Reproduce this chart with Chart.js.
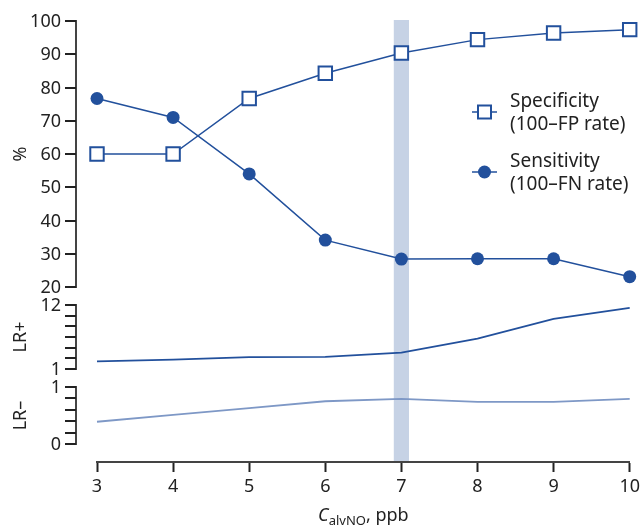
<!DOCTYPE html>
<html lang="en">
<head>
<meta charset="UTF-8">
<title>Specificity, sensitivity and likelihood ratios by CalvNO cut-off</title>
<script src="https://cdn.jsdelivr.net/npm/chart.js"></script>
<style>
  html, body { margin: 0; padding: 0; background: #fff; }
  canvas { display: block; }
</style>
</head>
<body>
<canvas id="chart" width="644" height="528"></canvas>
<script>
  // cut-off values of CalvNO (ppb)
  const cutoffs = [3, 4, 5, 6, 7, 8, 9, 10];
  const specificity = [60, 60, 76.7, 84.3, 90.4, 94.4, 96.4, 97.4];
  const sensitivity = [76.7, 71, 54, 34.1, 28.4, 28.5, 28.5, 23.1];
  const lrPlus = [2.3, 2.6, 3.05, 3.1, 3.8, 6.2, 9.6, 11.5];
  const lrMinus = [0.39, 0.51, 0.63, 0.75, 0.79, 0.74, 0.74, 0.79];

  const pctTicks = [20, 30, 40, 50, 60, 70, 80, 90, 100];
  const lrPlusTicks = [1, 2.833, 4.667, 6.5, 8.333, 10.167, 12];
  const lrPlusTickLabels = ['1', '', '', '', '', '', '12'];
  const lrMinusTicks = [0, 0.2, 0.4, 0.6, 0.8, 1];
  const lrMinusTickLabels = ['0', '', '', '', '', '1'];

  const optimalCutoff = 7;

  const BLUE = '#22509c';
  const LIGHT_BLUE = '#7e98c6';
  const BAND = '#c6d2e5';
  const INK = '#222';
  const FONT = "'Noto Sans', sans-serif";

  Chart.defaults.font.family = FONT;
  Chart.defaults.color = INK;

  // plot area goes from y=20 to y=462, each panel sits in its own band of it
  const AREA_TOP = 20, AREA_BOTTOM = 462;
  function fitRange(hi, hiPx, lo, loPx) {
    const k = (hi - lo) / (loPx - hiPx);
    return { min: lo - (AREA_BOTTOM - loPx) * k, max: hi + (hiPx - AREA_TOP) * k };
  }

  const panels = [
    { id: 'yPct', title: '%', ticks: pctTicks, labels: pctTicks.map(String), range: fitRange(100, 21, 20, 287) },
    { id: 'yPlus', title: 'LR+', ticks: lrPlusTicks, labels: lrPlusTickLabels, range: fitRange(12, 305, 1, 369) },
    { id: 'yMinus', title: 'LR–', ticks: lrMinusTicks, labels: lrMinusTickLabels, range: fitRange(1, 387, 0, 444) }
  ];

  const pts = vals => cutoffs.map((c, i) => ({ x: c, y: vals[i] }));

  const panelAxes = {
    id: 'panelAxes',
    beforeDraw(chart) {
      const { ctx, chartArea } = chart;
      const x = chart.scales.x;
      const l = x.getPixelForValue(optimalCutoff - 0.1);
      const r = x.getPixelForValue(optimalCutoff + 0.1);
      ctx.save();
      ctx.fillStyle = BAND;
      ctx.fillRect(l, chartArea.top, r - l, chartArea.bottom - chartArea.top);
      ctx.restore();
    },
    afterDraw(chart) {
      const { ctx } = chart;
      const axisX = 76;
      ctx.save();
      ctx.font = '18px ' + FONT;
      ctx.fillStyle = INK;
      panels.forEach(p => {
        const s = chart.scales[p.id];
        const top = s.getPixelForValue(p.ticks[p.ticks.length - 1]);
        const bot = s.getPixelForValue(p.ticks[0]);
        ctx.strokeStyle = '#444';
        ctx.lineWidth = 2;
        ctx.beginPath();
        ctx.moveTo(axisX, top - 1);
        ctx.lineTo(axisX, bot + 1);
        ctx.stroke();
        ctx.strokeStyle = INK;
        p.ticks.forEach((t, i) => {
          const y = Math.round(s.getPixelForValue(t));
          ctx.beginPath();
          ctx.moveTo(65, y);
          ctx.lineTo(axisX, y);
          ctx.stroke();
          if (p.labels[i]) {
            ctx.textAlign = 'right';
            ctx.textBaseline = 'middle';
            ctx.fillText(p.labels[i], 61, y + 1);
          }
        });
        ctx.save();
        ctx.translate(21, (top + bot) / 2);
        ctx.rotate(-Math.PI / 2);
        ctx.textAlign = 'center';
        ctx.textBaseline = 'middle';
        ctx.fillText(p.title, 0, 0);
        ctx.restore();
      });

      // legend
      const legend = [
        { lines: ['Specificity', '(100–FP rate)'], style: 'rect', y: 112 },
        { lines: ['Sensitivity', '(100–FN rate)'], style: 'circle', y: 172 }
      ];
      legend.forEach(it => {
        ctx.strokeStyle = BLUE;
        ctx.lineWidth = 1.5;
        ctx.beginPath();
        ctx.moveTo(472, it.y);
        ctx.lineTo(497, it.y);
        ctx.stroke();
        if (it.style === 'rect') {
          ctx.fillStyle = '#fff';
          ctx.lineWidth = 2;
          ctx.fillRect(478, it.y - 6.5, 13, 13);
          ctx.strokeRect(478, it.y - 6.5, 13, 13);
        } else {
          ctx.fillStyle = BLUE;
          ctx.beginPath();
          ctx.arc(484.5, it.y, 6.5, 0, Math.PI * 2);
          ctx.fill();
        }
        ctx.fillStyle = INK;
        ctx.font = '19px ' + FONT;
        ctx.textAlign = 'left';
        ctx.textBaseline = 'alphabetic';
        ctx.fillText(it.lines[0], 510, it.y - 5);
        ctx.fillText(it.lines[1], 510, it.y + 18);
      });

      // x axis title: C_alvNO, ppb
      const x = chart.scales.x;
      const cx = (x.left + x.right) / 2;
      const base = 521;
      const parts = [
        { t: 'C', f: 'italic 18px ' + FONT, dy: 0 },
        { t: 'alvNO', f: '13px ' + FONT, dy: 4 },
        { t: ', ppb', f: '18px ' + FONT, dy: 0 }
      ];
      let w = 0;
      parts.forEach(p => { ctx.font = p.f; p.w = ctx.measureText(p.t).width; w += p.w; });
      let px = cx - w / 2;
      ctx.textAlign = 'left';
      ctx.textBaseline = 'alphabetic';
      parts.forEach(p => { ctx.font = p.f; ctx.fillText(p.t, px, base + p.dy); px += p.w; });
      ctx.restore();
    }
  };

  new Chart(document.getElementById('chart'), {
    type: 'line',
    data: {
      datasets: [
        {
          label: 'Specificity (100–FP rate)',
          data: pts(specificity),
          yAxisID: 'yPct',
          borderColor: BLUE,
          borderWidth: 1.5,
          pointStyle: 'rect',
          pointRadius: 9.5,
          pointBorderWidth: 2,
          pointBackgroundColor: '#fff',
          pointBorderColor: BLUE,
          clip: false
        },
        {
          label: 'Sensitivity (100–FN rate)',
          data: pts(sensitivity),
          yAxisID: 'yPct',
          borderColor: BLUE,
          borderWidth: 1.5,
          pointStyle: 'circle',
          pointRadius: 6.5,
          pointBorderWidth: 0,
          pointBackgroundColor: BLUE,
          clip: false
        },
        {
          label: 'LR+',
          data: pts(lrPlus),
          yAxisID: 'yPlus',
          borderColor: BLUE,
          borderWidth: 1.8,
          pointRadius: 0,
          clip: false
        },
        {
          label: 'LR–',
          data: pts(lrMinus),
          yAxisID: 'yMinus',
          borderColor: LIGHT_BLUE,
          borderWidth: 1.8,
          pointRadius: 0,
          clip: false
        }
      ]
    },
    options: {
      responsive: false,
      animation: false,
      layout: { padding: { left: 97, right: 13, top: AREA_TOP, bottom: 0 } },
      plugins: { legend: { display: false }, tooltip: { enabled: false } },
      scales: {
        x: {
          type: 'linear',
          min: 3,
          max: 10,
          afterFit: s => { s.height = 528 - AREA_BOTTOM; },
          ticks: { stepSize: 1, padding: 4, font: { size: 18 }, color: INK },
          grid: { drawOnChartArea: false, drawTicks: true, tickLength: 10, tickWidth: 2, tickColor: INK },
          border: { color: '#444', width: 2 }
        },
        yPct: { type: 'linear', display: false, min: panels[0].range.min, max: panels[0].range.max },
        yPlus: { type: 'linear', display: false, min: panels[1].range.min, max: panels[1].range.max },
        yMinus: { type: 'linear', display: false, min: panels[2].range.min, max: panels[2].range.max }
      }
    },
    plugins: [panelAxes]
  });
</script>
</body>
</html>
